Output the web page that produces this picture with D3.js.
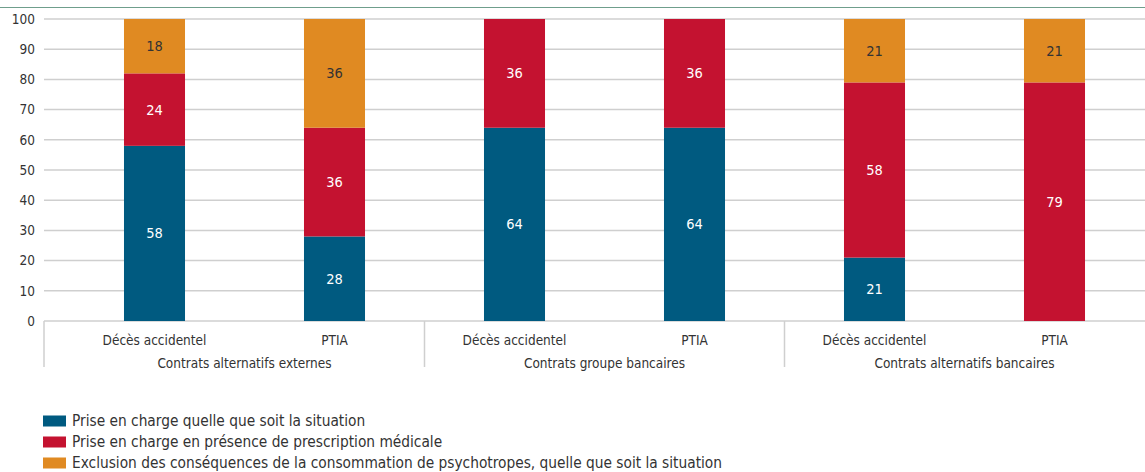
<!DOCTYPE html>
<html>
<head>
<meta charset="utf-8">
<script src="https://cdn.jsdelivr.net/npm/d3@7"></script>
<style>
  body { margin: 0; background: #fff; }
  svg { display: block; font-family: "DejaVu Sans Condensed", "Liberation Sans Narrow", sans-serif; }
</style>
</head>
<body>
<svg width="1145" height="472"></svg>
<script>
const groups = ['Contrats alternatifs externes', 'Contrats groupe bancaires', 'Contrats alternatifs bancaires'];
const garanties = ['Décès accidentel', 'PTIA'];
const seriesNames = [
  'Prise en charge quelle que soit la situation',
  'Prise en charge en présence de prescription médicale',
  'Exclusion des conséquences de la consommation de psychotropes, quelle que soit la situation',
];
// one value per bar, in order: groups x garanties
const priseEnCharge = [58, 28, 64, 64, 21, 0];
const prescription = [24, 36, 36, 36, 58, 79];
const exclusion = [18, 36, 0, 0, 21, 21];
const yTicks = [0, 10, 20, 30, 40, 50, 60, 70, 80, 90, 100];

const colors = ['#005a80', '#c41230', '#e08a22'];
const labelColors = ['#fff', '#fff', '#333'];
const axisFont = 13.5, valueFont = 14.5, legendFont = 15.3;

const bars = [];
groups.forEach((g, gi) => garanties.forEach((c, ci) => {
  const i = gi * garanties.length + ci;
  bars.push({ key: i, group: g, garantie: c, v0: priseEnCharge[i], v1: prescription[i], v2: exclusion[i] });
}));

const svg = d3.select('svg');
const plotLeft = 44, plotRight = 1145, plotTop = 19, plotBottom = 321;

const x = d3.scaleBand()
  .domain(bars.map(d => d.key))
  .range([64.5, 1144.5])
  .paddingInner(0.661)
  .paddingOuter(0.3305);

const y = d3.scaleLinear().domain([0, 100]).range([plotBottom, plotTop]);

// top rule
svg.append('line')
  .attr('x1', 0).attr('x2', 1145).attr('y1', 7.5).attr('y2', 7.5)
  .attr('stroke', '#6f9e8c').attr('stroke-width', 1.2);

// gridlines
svg.append('g').selectAll('line')
  .data(yTicks)
  .join('line')
  .attr('x1', plotLeft).attr('x2', plotRight)
  .attr('y1', d => y(d)).attr('y2', d => y(d))
  .attr('stroke', '#cfcfcf').attr('stroke-width', 1.5);

// y tick labels
svg.append('g').selectAll('text')
  .data(yTicks)
  .join('text')
  .attr('x', 35).attr('y', d => y(d))
  .attr('dy', '0.35em')
  .attr('text-anchor', 'end')
  .attr('font-size', axisFont)
  .attr('fill', '#333')
  .text(d => d);

// stacked bars
const stack = d3.stack().keys(['v0', 'v1', 'v2'])(bars);
const layers = svg.append('g').selectAll('g')
  .data(stack)
  .join('g')
  .attr('fill', (d, i) => colors[i]);

layers.selectAll('rect')
  .data(d => d.filter(s => s[1] - s[0] > 0))
  .join('rect')
  .attr('x', s => x(s.data.key))
  .attr('width', x.bandwidth())
  .attr('y', s => y(s[1]))
  .attr('height', s => y(s[0]) - y(s[1]));

stack.forEach((layer, li) => {
  svg.append('g').selectAll('text')
    .data(layer.filter(s => s[1] - s[0] > 0))
    .join('text')
    .attr('x', s => x(s.data.key) + x.bandwidth() / 2)
    .attr('y', s => y((s[0] + s[1]) / 2))
    .attr('dy', '0.35em')
    .attr('text-anchor', 'middle')
    .attr('font-size', valueFont)
    .attr('fill', labelColors[li])
    .text(s => s[1] - s[0]);
});

// group dividers
const step = x.step();
const dividers = [plotLeft].concat(groups.slice(1).map((g, gi) => x((gi + 1) * garanties.length) - (step - x.bandwidth()) / 2));
svg.append('g').selectAll('line')
  .data(dividers)
  .join('line')
  .attr('x1', d => d).attr('x2', d => d)
  .attr('y1', plotBottom).attr('y2', 367)
  .attr('stroke', '#cfcfcf').attr('stroke-width', 1.5);

// category labels
svg.append('g').selectAll('text')
  .data(bars)
  .join('text')
  .attr('x', d => x(d.key) + x.bandwidth() / 2)
  .attr('y', 340)
  .attr('dy', '0.35em')
  .attr('text-anchor', 'middle')
  .attr('font-size', axisFont)
  .attr('fill', '#333')
  .text(d => d.garantie);

// group labels
svg.append('g').selectAll('text')
  .data(groups)
  .join('text')
  .attr('x', (g, gi) => {
    const a = x(gi * garanties.length), b = x(gi * garanties.length + garanties.length - 1);
    return (a + b + x.bandwidth()) / 2;
  })
  .attr('y', 363)
  .attr('dy', '0.35em')
  .attr('text-anchor', 'middle')
  .attr('font-size', axisFont)
  .attr('fill', '#333')
  .text(d => d);

// legend
const legend = svg.append('g').selectAll('g')
  .data(seriesNames)
  .join('g')
  .attr('transform', (d, i) => `translate(43, ${421 + i * 21})`);

legend.append('rect')
  .attr('x', 0).attr('y', -5.5)
  .attr('width', 23).attr('height', 11)
  .attr('fill', (d, i) => colors[i]);

legend.append('text')
  .attr('x', 29).attr('y', 0)
  .attr('dy', '0.35em')
  .attr('font-size', legendFont)
  .attr('fill', '#333')
  .text(d => d);
</script>
</body>
</html>
